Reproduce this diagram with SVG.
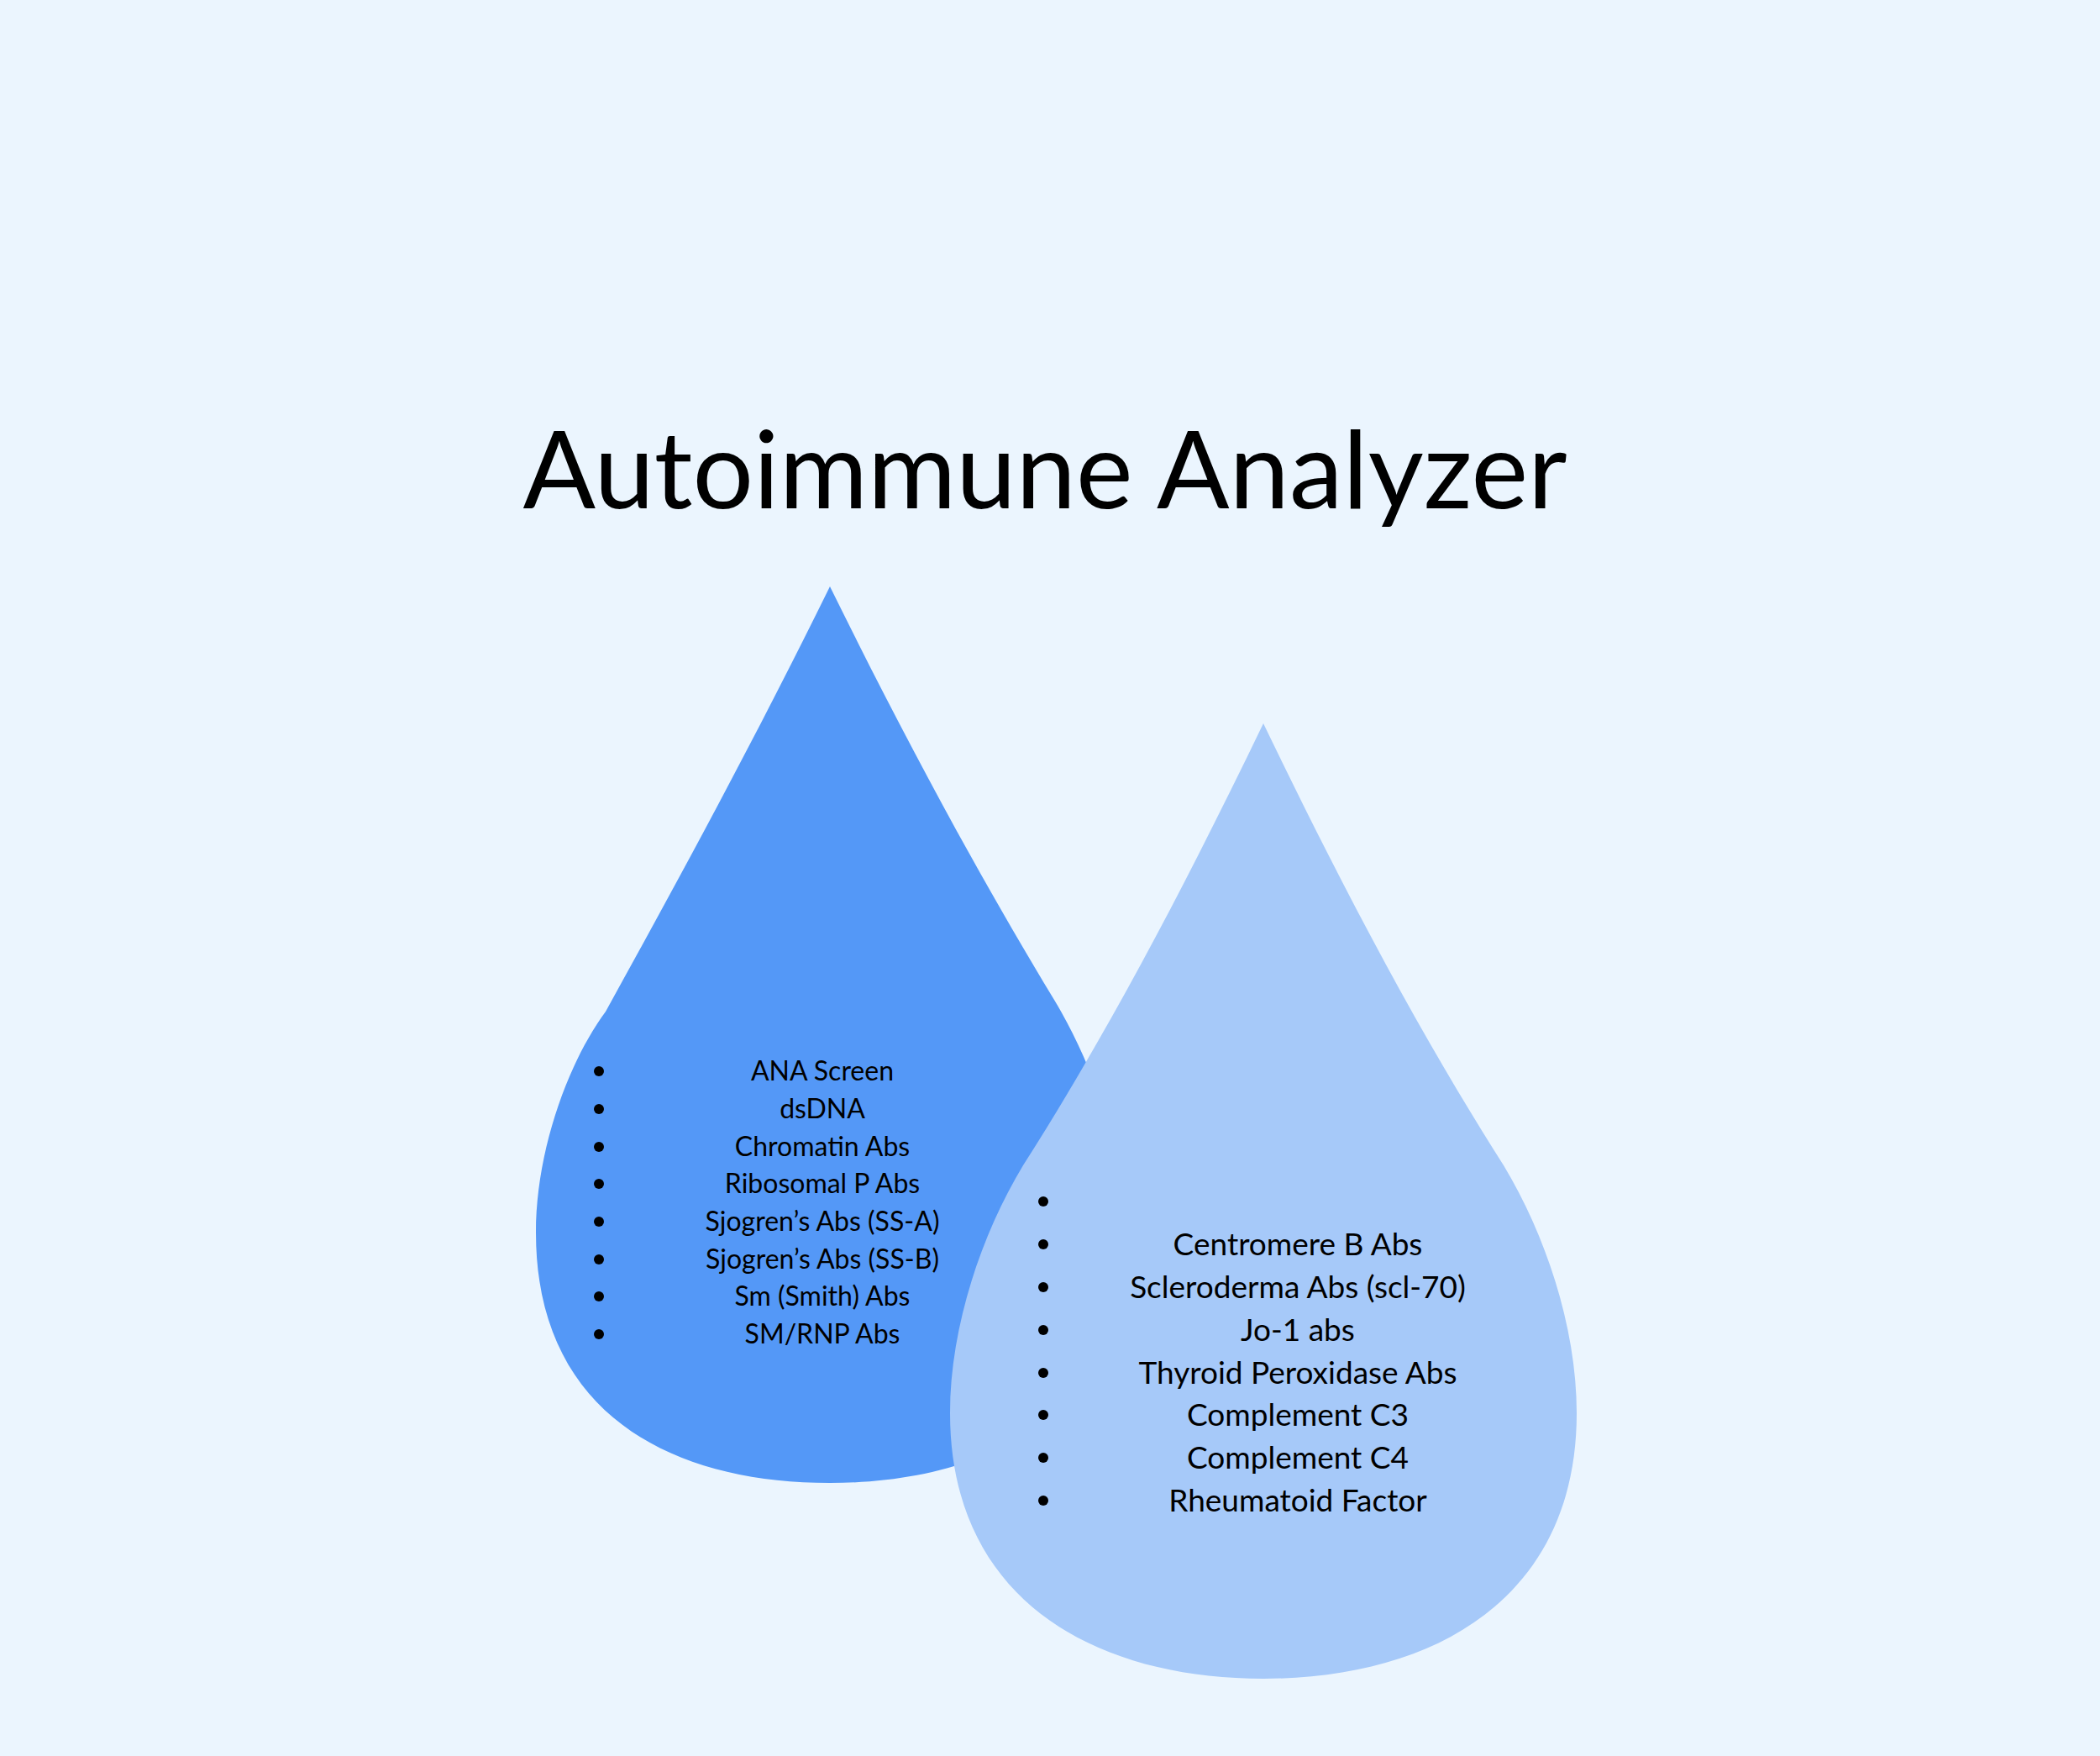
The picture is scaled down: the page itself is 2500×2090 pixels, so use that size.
<svg xmlns="http://www.w3.org/2000/svg" width="2500" height="2090" viewBox="0 0 2500 2090">
<style>
.t{font-family:Lato,"Open Sans","Liberation Sans",sans-serif;fill:#000;text-anchor:middle}
.a{font-size:32px}
.b{font-size:37px}
</style>
<rect width="2500" height="2090" fill="#EBF5FE"/>
<text class="t" x="1244" y="605" font-size="128">Autoimmune Analyzer</text>
<g id="drop1">
<path fill="#5498F7" d="M988,698 C1080,885 1170,1050 1255,1190 C1300,1265 1339,1370 1339,1467 C1339,1680 1180,1765 988,1765 C796,1765 638,1680 638,1467 C638,1370 676,1265 721,1204 C806,1050 896,885 988,698 Z"/>
<g fill="#000">
<circle cx="713" cy="1275" r="6"/><circle cx="713" cy="1320" r="6"/><circle cx="713" cy="1365" r="6"/><circle cx="713" cy="1409" r="6"/><circle cx="713" cy="1454" r="6"/><circle cx="713" cy="1499" r="6"/><circle cx="713" cy="1543" r="6"/><circle cx="713" cy="1588" r="6"/>
</g>
<g class="t a">
<text x="979" y="1286">ANA Screen</text>
<text x="979" y="1331">dsDNA</text>
<text x="979" y="1376">Chromatin Abs</text>
<text x="979" y="1420">Ribosomal P Abs</text>
<text x="979" y="1465">Sjogren’s Abs (SS-A)</text>
<text x="979" y="1510">Sjogren’s Abs (SS-B)</text>
<text x="979" y="1554">Sm (Smith) Abs</text>
<text x="979" y="1599">SM/RNP Abs</text>
</g>
</g>
<g id="drop2">
<path fill="#A6C9F9" d="M1504,861 C1600,1060 1690,1230 1790,1387 C1840,1470 1877,1580 1877,1682 C1877,1900 1710,1998 1504,1998 C1298,1998 1131,1900 1131,1682 C1131,1580 1168,1470 1218,1387 C1318,1230 1408,1060 1504,861 Z"/>
<g fill="#000">
<circle cx="1242" cy="1430" r="6"/><circle cx="1242" cy="1481" r="6"/><circle cx="1242" cy="1532" r="6"/><circle cx="1242" cy="1583" r="6"/><circle cx="1242" cy="1634" r="6"/><circle cx="1242" cy="1684" r="6"/><circle cx="1242" cy="1735" r="6"/><circle cx="1242" cy="1786" r="6"/>
</g>
<g class="t b">
<text x="1545" y="1494">Centromere B Abs</text>
<text x="1545" y="1545">Scleroderma Abs (scl-70)</text>
<text x="1545" y="1596">Jo-1 abs</text>
<text x="1545" y="1647">Thyroid Peroxidase Abs</text>
<text x="1545" y="1697">Complement C3</text>
<text x="1545" y="1748">Complement C4</text>
<text x="1545" y="1799">Rheumatoid Factor</text>
</g>
</g>
<g id="connectors"/>
</svg>
